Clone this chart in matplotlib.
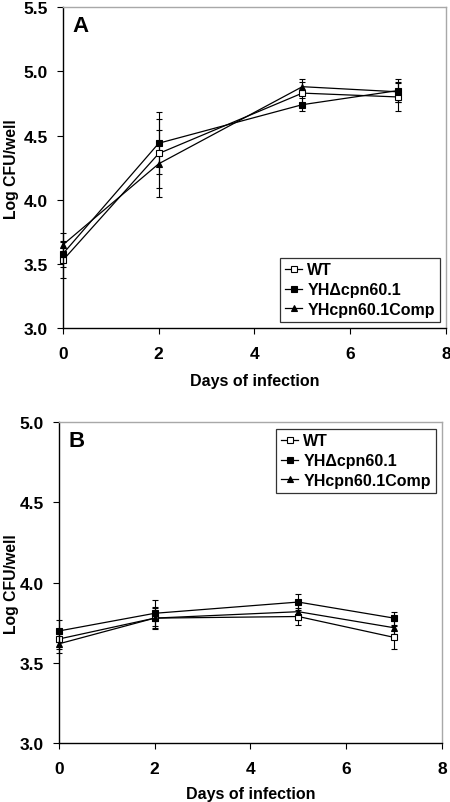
import numpy as np
import matplotlib
matplotlib.use("Agg")
import matplotlib.pyplot as plt
from matplotlib.lines import Line2D

plt.rcParams['font.family'] = ['Liberation Sans', 'DejaVu Sans']
plt.rcParams['font.weight'] = 'bold'

#---------------------------DATA------------------------------------
days = [0, 2, 5, 7]
labels = ["WT", "YH\u0394cpn60.1", "YHcpn60.1Comp"]

# panel A
a_wt = [3.53, 4.36, 4.83, 4.80]
a_wt_err = [0.14, 0.27, 0.09, 0.11]
a_del = [3.58, 4.44, 4.74, 4.85]
a_del_err = [0.10, 0.24, 0.05, 0.09]
a_comp = [3.65, 4.28, 4.88, 4.84]
a_comp_err = [0.09, 0.26, 0.06, 0.08]

# panel B
b_wt = [3.65, 3.78, 3.79, 3.66]
b_wt_err = [0.06, 0.06, 0.05, 0.07]
b_del = [3.70, 3.81, 3.88, 3.78]
b_del_err = [0.07, 0.08, 0.05, 0.04]
b_comp = [3.62, 3.78, 3.82, 3.72]
b_comp_err = [0.06, 0.07, 0.05, 0.04]

yticks_a = [3.0, 3.5, 4.0, 4.5, 5.0, 5.5]
yticks_b = [3.0, 3.5, 4.0, 4.5, 5.0]
xticks = [0, 2, 4, 6, 8]
#-------------------------------------------------------------------

styles = [dict(marker='s', mfc='white', ms=4.5),
          dict(marker='s', mfc='black', ms=4.5),
          dict(marker='^', mfc='black', ms=4.5)]


def draw_panel(ax, series, errs, yticks, letter, leg_loc, ylab_x, xlab_y):
    handles = []
    for vals, err, st, lab in zip(series, errs, styles, labels):
        ln, caps, bars = ax.errorbar(days, vals, yerr=err, color='black', lw=0.9,
                                     mec='black', mew=0.8, capsize=2,
                                     elinewidth=0.8, capthick=0.8, **st)
        ln.set_clip_on(False)
        for c in caps:
            c.set_clip_on(False)
        for b in bars:
            b.set_clip_on(False)
        handles.append(Line2D([], [], color='black', lw=0.9, mec='black',
                              mew=0.8, label=lab, **st))
    ax.set_xlim(0, 8)
    ax.set_ylim(yticks[0], yticks[-1])
    ax.set_xticks(xticks)
    ax.set_yticks(yticks)
    ax.set_yticklabels(["%.1f" % v for v in yticks])
    ax.tick_params(direction='out', length=4, width=0.8, labelsize=12.5)
    ax.tick_params(axis='x', pad=9)
    ax.tick_params(axis='y', pad=7)
    for s in ['top', 'right']:
        ax.spines[s].set_color('#a8a8a8')
        ax.spines[s].set_linewidth(1.0)
    for s in ['left', 'bottom']:
        ax.spines[s].set_linewidth(1.0)
    ax.set_xlabel("Days of infection", fontsize=11.5, fontweight='bold')
    ax.set_ylabel("Log CFU/well", fontsize=11.3, fontweight='bold')
    ax.xaxis.set_label_coords(0.5, xlab_y)
    ax.xaxis.label.set_va('center')
    ax.yaxis.set_label_coords(ylab_x, 0.5)
    ax.yaxis.label.set_va('center')
    ax.text(0.025, 0.975, letter, transform=ax.transAxes, fontsize=16,
            fontweight='bold', va='top', ha='left')
    leg = ax.legend(handles=handles, loc=leg_loc, fontsize=11.5, frameon=True,
                    fancybox=False, edgecolor='black', handlelength=1.1,
                    handletextpad=0.3, borderpad=0.3, labelspacing=0.3,
                    borderaxespad=0.4)
    leg.get_frame().set_linewidth(0.9)
    for t in leg.get_texts():
        t.set_fontweight('bold')


fig = plt.figure(figsize=(4.5, 8.03), dpi=100)
axA = fig.add_axes([0.14, 0.590, 0.851, 0.400])
axB = fig.add_axes([0.131, 0.073, 0.851, 0.400])

draw_panel(axA, [a_wt, a_del, a_comp], [a_wt_err, a_del_err, a_comp_err],
           yticks_a, "A", 'lower right', -0.135, -0.162)
draw_panel(axB, [b_wt, b_del, b_comp], [b_wt_err, b_del_err, b_comp_err],
           yticks_b, "B", 'upper right', -0.125, -0.155)

fig.savefig("out.png", dpi=100)
